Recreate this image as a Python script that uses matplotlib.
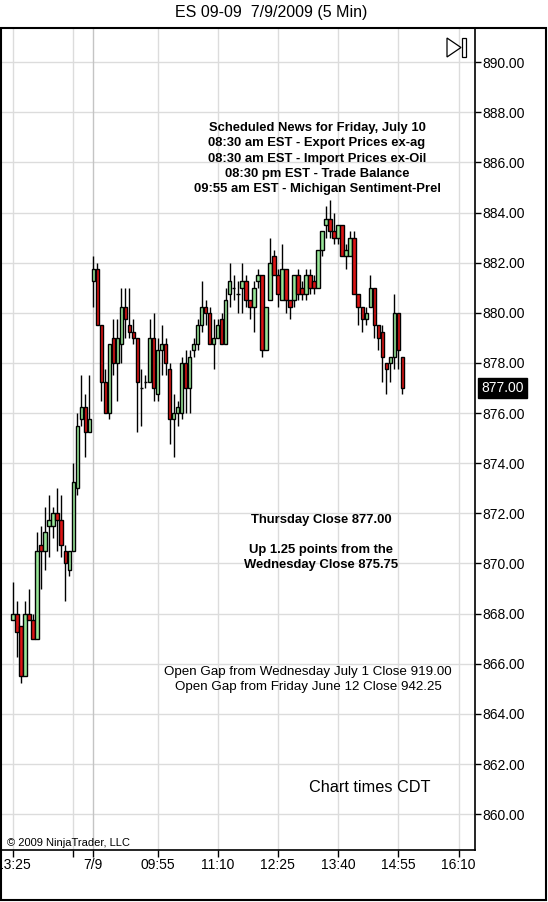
import matplotlib
matplotlib.use("Agg")
import matplotlib.pyplot as plt
from matplotlib.patches import Rectangle, Polygon
import matplotlib.transforms as mtransforms

plt.rcParams['font.family'] = ['Liberation Sans', 'DejaVu Sans']

# 5-min bars, 7/8 from 13:25 to 15:00, then 7/9 from 08:35 to 15:00
opens = [867.75, 868.0, 867.5, 865.5, 868.0, 867.75, 867.0, 870.75, 870.5, 871.5,
         871.5, 872.0, 871.75, 870.5, 869.75, 870.5, 873.0, 875.75, 876.25, 875.25,
         881.25, 881.75, 879.5, 877.25, 876.0, 879.0, 878.0, 878.75, 880.25, 879.5,
         879.25, 879.0, 877.0, 877.25, 877.25, 879.0, 876.75, 878.5, 878.75, 877.75,
         875.75, 876.0, 876.0, 878.0, 877.0, 878.5, 878.75, 879.5, 880.25, 880.0,
         878.75, 879.0, 879.75, 878.75, 880.75, 881.0, 880.75, 881.0, 881.25, 880.5,
         880.25, 881.25, 881.5, 878.5, 880.5, 882.25, 881.5, 880.5, 881.75, 880.5,
         880.5, 881.5, 881.0, 880.75, 881.5, 881.25, 881.0, 882.5, 883.5, 883.75,
         883.25, 883.0, 883.5, 882.25, 882.25, 883.0, 880.75, 880.25, 879.75, 880.25,
         881.0, 879.5, 879.25, 878.0, 878.0, 878.25, 880.0, 878.25]
highs = [869.25, 868.5, 867.5, 868.5, 869.0, 868.0, 871.25, 871.5, 872.25, 872.75,
         872.25, 873.0, 872.75, 870.75, 870.5, 874.0, 876.0, 877.5, 876.75, 877.5,
         882.25, 882.0, 879.5, 877.75, 878.75, 879.75, 879.75, 881.0, 881.0, 881.0,
         879.75, 879.0, 877.75, 877.5, 879.75, 880.0, 879.0, 879.5, 879.0, 878.0,
         876.75, 876.5, 878.25, 878.5, 878.5, 879.0, 879.75, 881.25, 880.5, 880.25,
         879.75, 879.75, 880.0, 881.0, 882.0, 881.5, 881.25, 882.0, 881.5, 880.5,
         881.25, 881.75, 881.5, 880.25, 883.0, 882.5, 881.75, 882.75, 881.75, 880.5,
         881.5, 881.75, 881.25, 881.75, 881.75, 881.5, 882.5, 883.25, 884.25, 884.5,
         884.0, 883.5, 883.5, 882.75, 883.25, 883.25, 880.75, 880.25, 880.25, 881.5,
         881.0, 879.5, 879.5, 878.0, 878.25, 880.75, 880.0, 878.25]
lows = [867.75, 866.25, 865.25, 865.5, 867.75, 867.0, 867.0, 869.0, 869.75, 870.25,
        871.0, 870.5, 870.25, 868.5, 869.5, 870.5, 872.75, 875.5, 874.25, 875.25,
        880.25, 879.5, 876.5, 876.0, 875.75, 877.5, 876.5, 878.0, 879.0, 879.0,
        878.75, 875.25, 875.5, 877.0, 877.25, 876.5, 876.5, 877.5, 877.5, 874.75,
        874.25, 875.5, 875.75, 876.0, 876.0, 878.25, 878.5, 879.25, 879.5, 878.75,
        877.75, 879.0, 878.75, 878.75, 880.25, 880.5, 880.0, 880.0, 880.25, 879.75,
        879.25, 881.0, 878.25, 878.5, 880.5, 881.5, 880.25, 880.5, 880.0, 879.75,
        880.25, 880.5, 880.5, 880.5, 880.75, 880.75, 881.0, 882.25, 883.0, 883.0,
        882.75, 882.75, 882.25, 881.75, 882.25, 880.75, 879.5, 879.25, 879.5, 880.25,
        879.0, 878.5, 877.25, 876.75, 877.25, 877.75, 877.75, 876.75]
closes = [868.0, 867.25, 865.5, 868.0, 867.75, 867.0, 870.5, 870.5, 871.25, 871.75,
          872.0, 871.75, 870.75, 870.0, 870.5, 873.25, 875.5, 876.25, 875.25, 875.75,
          881.75, 879.5, 877.25, 876.0, 878.75, 878.0, 879.0, 880.25, 879.75, 879.25,
          879.0, 877.25, 877.0, 877.25, 879.0, 877.0, 878.5, 878.75, 878.0, 875.75,
          876.0, 876.25, 878.0, 877.0, 878.25, 878.75, 879.5, 880.25, 880.0, 878.75,
          879.0, 879.5, 878.75, 880.5, 881.25, 881.0, 880.75, 881.25, 880.5, 880.25,
          881.0, 881.5, 878.5, 880.25, 882.0, 881.5, 880.75, 881.75, 880.5, 880.25,
          881.5, 880.75, 880.75, 881.5, 881.0, 881.0, 882.5, 883.25, 883.75, 883.25,
          883.0, 883.5, 882.25, 882.5, 883.0, 880.75, 880.25, 879.75, 880.0, 881.0,
          879.5, 879.0, 878.25, 877.75, 878.25, 880.0, 878.5, 877.0]

# time axis: bar index of each labelled tick
tick_pos = [0, 15, 20, 36, 51, 66, 81, 96, 111]
tick_labels = ["13:25", "", "7/9", "09:55", "11:10", "12:25", "13:40", "14:55", "16:10"]
price_ticks = [860, 862, 864, 866, 868, 870, 872, 874, 876, 878, 880, 882, 884, 886, 888, 890]
last_price = 877.00

W, H = 548, 902
fig = plt.figure(figsize=(W / 100, H / 100), dpi=100)


def fx(px):
    return px / W


def fy(py):
    return 1 - py / H


ax = fig.add_axes([fx(1), fy(850), fx(475) - fx(1), fy(28) - fy(850)])

# grid
for p in price_ticks:
    ax.axhline(p, color="#dcdcdc", lw=1, zorder=0)
for t in tick_pos:
    ax.axvline(t, color="#c4c4c4" if t == 20 else "#dcdcdc", lw=1, zorder=0)

# candles
green = "#98e698"
red = "#dc1414"
for i in range(len(opens)):
    o, h, l, c = opens[i], highs[i], lows[i], closes[i]
    ax.vlines(i, l, h, color="black", lw=1, zorder=2)
    col = green if c >= o else red
    ax.bar(i, abs(c - o), bottom=min(o, c), width=0.85, color=col,
           edgecolor="black", linewidth=1, zorder=3)

ax.set_xlim(-3, 115.1)
ax.set_ylim(858.57, 891.36)

ax.yaxis.tick_right()
ax.set_yticks(price_ticks)
ax.set_yticklabels([f"{p:.2f}" for p in price_ticks])
ax.set_xticks(tick_pos)
ax.set_xticklabels(tick_labels)
ax.tick_params(axis="both", direction="out", length=4, width=1, labelsize=10,
               colors="black", pad=1)
ax.tick_params(axis="x", length=5, pad=0.5)
for s in ax.spines.values():
    s.set_linewidth(1.2)
ax.spines["left"].set_visible(False)
ax.spines["top"].set_visible(False)

# last price marker
trans = mtransforms.blended_transform_factory(ax.transAxes, ax.transData)
ax.text(1.013, last_price, f"{last_price:.2f}", transform=trans, color="white",
        fontsize=10, va="center", ha="left",
        bbox=dict(boxstyle="square,pad=0.25", fc="black", ec="black"), zorder=5)

# outer frame
fig.add_artist(Rectangle((fx(1), fy(900)), fx(546) - fx(1), fy(28) - fy(900),
                         transform=fig.transFigure, fill=False, lw=1.5, ec="black"))

# play/end icon top right
fig.add_artist(Polygon([(fx(447), fy(38)), (fx(447), fy(57)), (fx(461), fy(47.5))],
                       closed=True, transform=fig.transFigure, fill=False, lw=0.9, ec="black"))
fig.add_artist(Rectangle((fx(462), fy(57)), fx(3.5), fy(38) - fy(57),
                         transform=fig.transFigure, fill=False, lw=0.9, ec="black"))

fig.text(0.495, fy(13), "ES 09-09  7/9/2009 (5 Min)", ha="center", va="center", fontsize=11.5)

news = ["Scheduled News for Friday, July 10",
        "08:30 am EST - Export Prices ex-ag",
        "08:30 am EST - Import Prices ex-Oil",
        "08:30 pm EST - Trade Balance",
        "09:55 am EST - Michigan Sentiment-Prel"]
for k, line in enumerate(news):
    fig.text(fx(317), fy(128.3 + 15.15 * k), line, ha="center", va="center",
             fontsize=9.4, fontweight="bold")

fig.text(fx(321), fy(520), "Thursday Close 877.00", ha="center", va="center",
         fontsize=9.4, fontweight="bold")
fig.text(fx(321), fy(550), "Up 1.25 points from the", ha="center", va="center",
         fontsize=9.4, fontweight="bold")
fig.text(fx(321), fy(565), "Wednesday Close 875.75", ha="center", va="center",
         fontsize=9.4, fontweight="bold")

fig.text(fx(308), fy(672), "Open Gap from Wednesday July 1 Close 919.00", ha="center",
         va="center", fontsize=9.6)
fig.text(fx(308), fy(687), "Open Gap from Friday June 12 Close 942.25", ha="center",
         va="center", fontsize=9.6)

fig.text(fx(370), fy(788), "Chart times CDT", ha="center", va="center", fontsize=11.7)
fig.text(fx(7), fy(843), "© 2009 NinjaTrader, LLC", ha="left", va="center", fontsize=8)

fig.savefig("out.png", dpi=100)
